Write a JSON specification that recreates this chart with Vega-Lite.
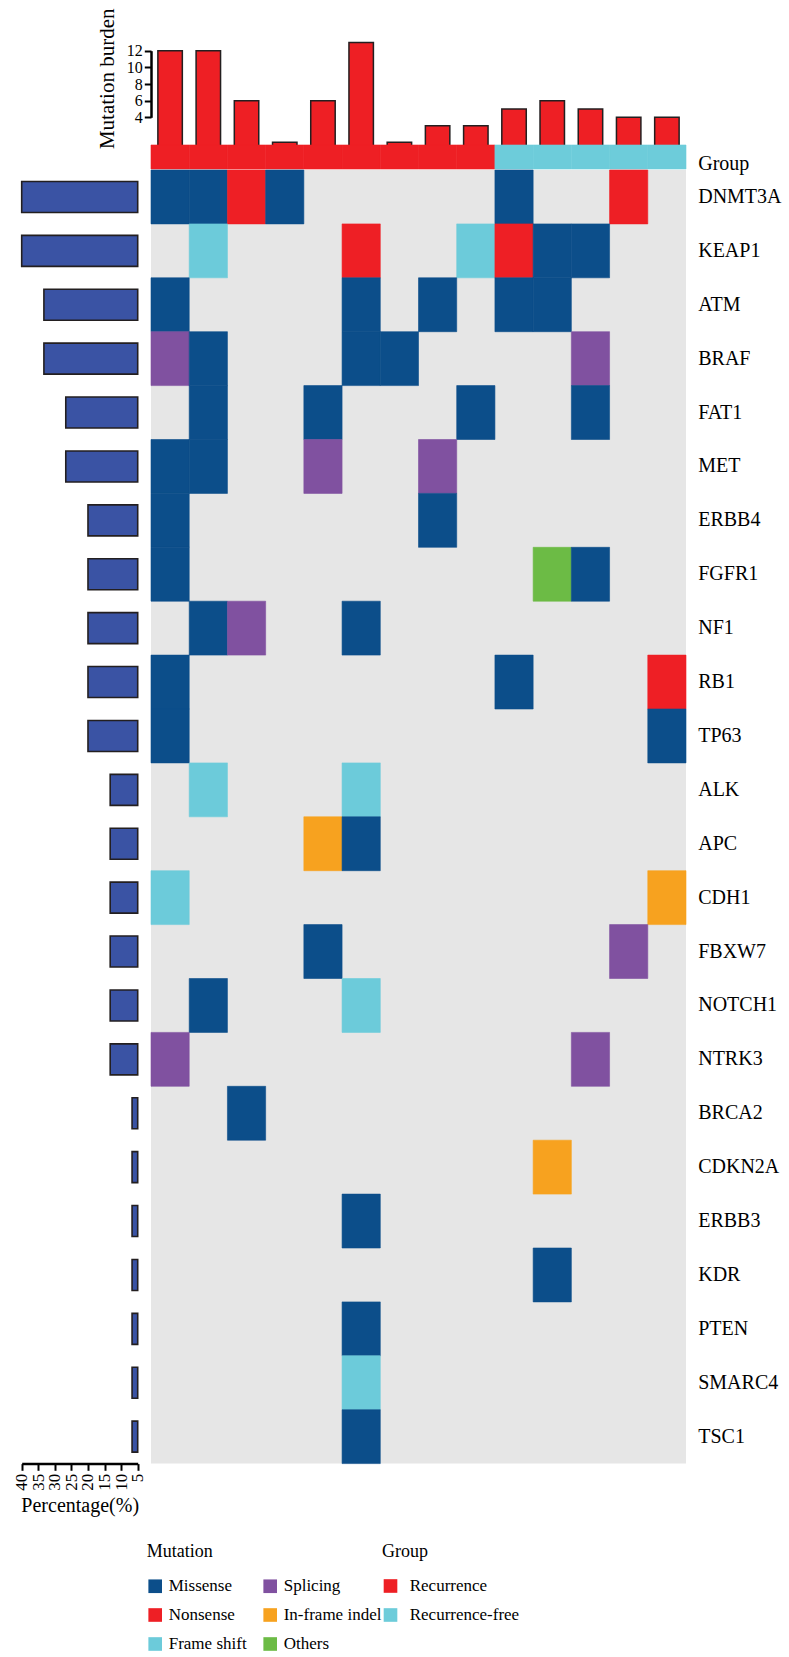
{
  "$schema": "https://vega.github.io/schema/vega-lite/v6.json",
  "padding": 0,
  "autosize": {"type": "pad"},
  "config": {
    "font": "Liberation Serif",
    "view": {"stroke": null},
    "axis": {"labelFont": "Liberation Serif", "titleFont": "Liberation Serif", "labelColor": "#000", "titleColor": "#000", "domainColor": "#000", "tickColor": "#000", "grid": false, "titleFontWeight": "normal"},
    "legend": {"labelFont": "Liberation Serif", "titleFont": "Liberation Serif", "labelColor": "#000", "titleColor": "#000", "titleFontWeight": "normal", "padding": 0}
  },
  "datasets": {
    "samples": [
      {"sample": "S1", "burden": 12, "group": "Recurrence"},
      {"sample": "S2", "burden": 12, "group": "Recurrence"},
      {"sample": "S3", "burden": 6, "group": "Recurrence"},
      {"sample": "S4", "burden": 1, "group": "Recurrence"},
      {"sample": "S5", "burden": 6, "group": "Recurrence"},
      {"sample": "S6", "burden": 13, "group": "Recurrence"},
      {"sample": "S7", "burden": 1, "group": "Recurrence"},
      {"sample": "S8", "burden": 3, "group": "Recurrence"},
      {"sample": "S9", "burden": 3, "group": "Recurrence"},
      {"sample": "S10", "burden": 5, "group": "Recurrence-free"},
      {"sample": "S11", "burden": 6, "group": "Recurrence-free"},
      {"sample": "S12", "burden": 5, "group": "Recurrence-free"},
      {"sample": "S13", "burden": 4, "group": "Recurrence-free"},
      {"sample": "S14", "burden": 4, "group": "Recurrence-free"}
    ],
    "genes": [
      {"gene": "DNMT3A", "pct": 40},
      {"gene": "KEAP1", "pct": 40},
      {"gene": "ATM", "pct": 33.3},
      {"gene": "BRAF", "pct": 33.3},
      {"gene": "FAT1", "pct": 26.7},
      {"gene": "MET", "pct": 26.7},
      {"gene": "ERBB4", "pct": 20},
      {"gene": "FGFR1", "pct": 20},
      {"gene": "NF1", "pct": 20},
      {"gene": "RB1", "pct": 20},
      {"gene": "TP63", "pct": 20},
      {"gene": "ALK", "pct": 13.3},
      {"gene": "APC", "pct": 13.3},
      {"gene": "CDH1", "pct": 13.3},
      {"gene": "FBXW7", "pct": 13.3},
      {"gene": "NOTCH1", "pct": 13.3},
      {"gene": "NTRK3", "pct": 13.3},
      {"gene": "BRCA2", "pct": 6.7},
      {"gene": "CDKN2A", "pct": 6.7},
      {"gene": "ERBB3", "pct": 6.7},
      {"gene": "KDR", "pct": 6.7},
      {"gene": "PTEN", "pct": 6.7},
      {"gene": "SMARC4", "pct": 6.7},
      {"gene": "TSC1", "pct": 6.7}
    ],
    "mutations": [
      {"sample": "S1", "gene": "DNMT3A", "type": "Missense"},
      {"sample": "S2", "gene": "DNMT3A", "type": "Missense"},
      {"sample": "S3", "gene": "DNMT3A", "type": "Nonsense"},
      {"sample": "S4", "gene": "DNMT3A", "type": "Missense"},
      {"sample": "S10", "gene": "DNMT3A", "type": "Missense"},
      {"sample": "S13", "gene": "DNMT3A", "type": "Nonsense"},
      {"sample": "S2", "gene": "KEAP1", "type": "Frame shift"},
      {"sample": "S6", "gene": "KEAP1", "type": "Nonsense"},
      {"sample": "S9", "gene": "KEAP1", "type": "Frame shift"},
      {"sample": "S10", "gene": "KEAP1", "type": "Nonsense"},
      {"sample": "S11", "gene": "KEAP1", "type": "Missense"},
      {"sample": "S12", "gene": "KEAP1", "type": "Missense"},
      {"sample": "S1", "gene": "ATM", "type": "Missense"},
      {"sample": "S6", "gene": "ATM", "type": "Missense"},
      {"sample": "S8", "gene": "ATM", "type": "Missense"},
      {"sample": "S10", "gene": "ATM", "type": "Missense"},
      {"sample": "S11", "gene": "ATM", "type": "Missense"},
      {"sample": "S1", "gene": "BRAF", "type": "Splicing"},
      {"sample": "S2", "gene": "BRAF", "type": "Missense"},
      {"sample": "S6", "gene": "BRAF", "type": "Missense"},
      {"sample": "S7", "gene": "BRAF", "type": "Missense"},
      {"sample": "S12", "gene": "BRAF", "type": "Splicing"},
      {"sample": "S2", "gene": "FAT1", "type": "Missense"},
      {"sample": "S5", "gene": "FAT1", "type": "Missense"},
      {"sample": "S9", "gene": "FAT1", "type": "Missense"},
      {"sample": "S12", "gene": "FAT1", "type": "Missense"},
      {"sample": "S1", "gene": "MET", "type": "Missense"},
      {"sample": "S2", "gene": "MET", "type": "Missense"},
      {"sample": "S5", "gene": "MET", "type": "Splicing"},
      {"sample": "S8", "gene": "MET", "type": "Splicing"},
      {"sample": "S1", "gene": "ERBB4", "type": "Missense"},
      {"sample": "S8", "gene": "ERBB4", "type": "Missense"},
      {"sample": "S1", "gene": "FGFR1", "type": "Missense"},
      {"sample": "S11", "gene": "FGFR1", "type": "Others"},
      {"sample": "S12", "gene": "FGFR1", "type": "Missense"},
      {"sample": "S2", "gene": "NF1", "type": "Missense"},
      {"sample": "S3", "gene": "NF1", "type": "Splicing"},
      {"sample": "S6", "gene": "NF1", "type": "Missense"},
      {"sample": "S1", "gene": "RB1", "type": "Missense"},
      {"sample": "S10", "gene": "RB1", "type": "Missense"},
      {"sample": "S14", "gene": "RB1", "type": "Nonsense"},
      {"sample": "S1", "gene": "TP63", "type": "Missense"},
      {"sample": "S14", "gene": "TP63", "type": "Missense"},
      {"sample": "S2", "gene": "ALK", "type": "Frame shift"},
      {"sample": "S6", "gene": "ALK", "type": "Frame shift"},
      {"sample": "S5", "gene": "APC", "type": "In-frame indel"},
      {"sample": "S6", "gene": "APC", "type": "Missense"},
      {"sample": "S1", "gene": "CDH1", "type": "Frame shift"},
      {"sample": "S14", "gene": "CDH1", "type": "In-frame indel"},
      {"sample": "S5", "gene": "FBXW7", "type": "Missense"},
      {"sample": "S13", "gene": "FBXW7", "type": "Splicing"},
      {"sample": "S2", "gene": "NOTCH1", "type": "Missense"},
      {"sample": "S6", "gene": "NOTCH1", "type": "Frame shift"},
      {"sample": "S1", "gene": "NTRK3", "type": "Splicing"},
      {"sample": "S12", "gene": "NTRK3", "type": "Splicing"},
      {"sample": "S3", "gene": "BRCA2", "type": "Missense"},
      {"sample": "S11", "gene": "CDKN2A", "type": "In-frame indel"},
      {"sample": "S6", "gene": "ERBB3", "type": "Missense"},
      {"sample": "S11", "gene": "KDR", "type": "Missense"},
      {"sample": "S6", "gene": "PTEN", "type": "Missense"},
      {"sample": "S6", "gene": "SMARC4", "type": "Frame shift"},
      {"sample": "S6", "gene": "TSC1", "type": "Missense"}
    ]
  },
  "bounds": "flush",
  "spacing": 0,
  "resolve": {"scale": {"stroke": "independent"}},
  "hconcat": [
    {
      "width": 151,
      "height": 1463.6,
      "data": {"name": "genes"},
      "mark": {"type": "bar", "fill": "#3a53a4", "stroke": "#231f20", "strokeWidth": 1.6},
      "encoding": {
        "y": {
          "field": "gene", "type": "nominal", "sort": null,
          "scale": {
            "domain": ["DNMT3A","KEAP1","ATM","BRAF","FAT1","MET","ERBB4","FGFR1","NF1","RB1","TP63","ALK","APC","CDH1","FBXW7","NOTCH1","NTRK3","BRCA2","CDKN2A","ERBB3","KDR","PTEN","SMARC4","TSC1"],
            "range": [170, 1463.6], "paddingInner": 0.425, "paddingOuter": 0.2125
          },
          "axis": null
        },
        "x": {
          "field": "pct", "type": "quantitative",
          "scale": {"domain": [5, 40], "range": [137.7, 21.7]},
          "axis": {
            "title": "Percentage(%)", "values": [5,10,15,20,25,30,35,40],
            "labelAngle": -90, "labelAlign": "right", "labelBaseline": "middle",
            "labelFontSize": 17, "labelPadding": 3, "labelOverlap": false, "labelFlush": false, "labelBound": false,
            "tickSize": 6.7, "tickWidth": 2, "domainWidth": 2.5,
            "titleFontSize": 20, "titlePadding": 5
          }
        },
        "x2": {"datum": 5}
      }
    },
    {
      "bounds": "flush",
      "spacing": 1,
      "resolve": {"scale": {"stroke": "independent"}},
      "vconcat": [
        {
          "width": 535,
          "height": 144,
          "data": {"name": "samples"},
          "mark": {"type": "bar", "fill": "#ee1f24", "stroke": "#231f20", "strokeWidth": 1.5},
          "encoding": {
            "x": {
              "field": "sample", "type": "nominal", "sort": null,
              "scale": {"domain": ["S1","S2","S3","S4","S5","S6","S7","S8","S9","S10","S11","S12","S13","S14"], "paddingInner": 0.36, "paddingOuter": 0.18},
              "axis": null
            },
            "y": {
              "field": "burden", "type": "quantitative",
              "scale": {"domain": [4, 12], "range": [117.3, 50.7]},
              "axis": {
                "title": "Mutation burden", "values": [4,6,8,10,12],
                "labelFontSize": 16, "labelPadding": 2, "labelOverlap": false, "labelFlush": false, "labelBound": false,
                "tickSize": 6.7, "tickWidth": 2, "domainWidth": 2.5,
                "titleFontSize": 21, "titlePadding": 9, "titleY": 78.3
              }
            },
            "y2": {"datum": 0}
          }
        },
        {
          "width": 535,
          "height": 24,
          "data": {"name": "samples"},
          "mark": {"type": "rect", "strokeWidth": 0.6},
          "encoding": {
            "x": {
              "field": "sample", "type": "nominal", "sort": null,
              "scale": {"domain": ["S1","S2","S3","S4","S5","S6","S7","S8","S9","S10","S11","S12","S13","S14"], "padding": 0},
              "axis": null
            },
            "y": {
              "datum": "Group", "type": "nominal",
              "scale": {"padding": 0},
              "axis": {"orient": "right", "title": null, "domain": false, "ticks": false, "tickSize": 0, "labelPadding": 11.7, "labelFontSize": 20, "labelOffset": 7}
            },
            "fill": {
              "field": "group", "type": "nominal",
              "scale": {"domain": ["Recurrence", "Recurrence-free"], "range": ["#ee1f24", "#6dccda"]},
              "legend": {
                "title": "Group", "orient": "none", "legendX": 382, "legendY": 1542.5,
                "symbolType": "square", "symbolSize": 186, "symbolStrokeWidth": 0,
                "labelFont": "Liberation Serif", "titleFont": "Liberation Serif",
                "labelFontSize": 17, "labelOffset": 10.7, "titleFontSize": 18, "titlePadding": 17, "rowPadding": 11
              }
            },
            "stroke": {
              "field": "group", "type": "nominal",
              "scale": {"domain": ["Recurrence", "Recurrence-free"], "range": ["#ee1f24", "#6dccda"]},
              "legend": null
            }
          }
        },
        {
          "width": 535,
          "height": 1293.6,
          "view": {"fill": "#e6e6e6", "stroke": null},
          "data": {"name": "mutations"},
          "mark": {"type": "rect", "strokeWidth": 0.6},
          "encoding": {
            "x": {
              "field": "sample", "type": "nominal", "sort": null,
              "scale": {"domain": ["S1","S2","S3","S4","S5","S6","S7","S8","S9","S10","S11","S12","S13","S14"], "padding": 0},
              "axis": null
            },
            "y": {
              "field": "gene", "type": "nominal", "sort": null,
              "scale": {"domain": ["DNMT3A","KEAP1","ATM","BRAF","FAT1","MET","ERBB4","FGFR1","NF1","RB1","TP63","ALK","APC","CDH1","FBXW7","NOTCH1","NTRK3","BRCA2","CDKN2A","ERBB3","KDR","PTEN","SMARC4","TSC1"], "padding": 0},
              "axis": {"orient": "right", "title": null, "domain": false, "ticks": false, "tickSize": 0, "labelPadding": 11.7, "labelFontSize": 20}
            },
            "color": {
              "field": "type", "type": "nominal",
              "scale": {
                "domain": ["Missense", "Nonsense", "Frame shift", "Splicing", "In-frame indel", "Others"],
                "range": ["#0c4e8a", "#ee1f25", "#6ccbda", "#8051a0", "#f7a21f", "#6cbb45"]
              },
              "legend": {
                "title": "Mutation", "orient": "none", "legendX": 146.7, "legendY": 1542.5,
                "columns": 2, "columnPadding": 15, "rowPadding": 11,
                "symbolType": "square", "symbolSize": 186, "symbolStrokeWidth": 0,
                "labelFont": "Liberation Serif", "titleFont": "Liberation Serif",
                "labelFontSize": 17, "labelOffset": 5, "titleFontSize": 18, "titlePadding": 17
              }
            },
            "stroke": {
              "field": "type", "type": "nominal",
              "scale": {
                "domain": ["Missense", "Nonsense", "Frame shift", "Splicing", "In-frame indel", "Others"],
                "range": ["#0c4e8a", "#ee1f25", "#6ccbda", "#8051a0", "#f7a21f", "#6cbb45"]
              },
              "legend": null
            }
          }
        }
      ]
    }
  ]
}
